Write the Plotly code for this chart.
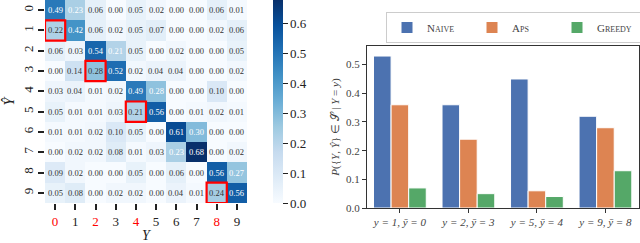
import plotly.graph_objects as go
import plotly.express as px

# ---- data ----
labels = list(range(10))
conf = [
    [0.49, 0.23, 0.06, 0.00, 0.05, 0.02, 0.00, 0.00, 0.06, 0.01],
    [0.22, 0.42, 0.06, 0.02, 0.05, 0.07, 0.00, 0.00, 0.02, 0.06],
    [0.06, 0.03, 0.54, 0.21, 0.05, 0.00, 0.02, 0.00, 0.00, 0.05],
    [0.00, 0.14, 0.28, 0.52, 0.02, 0.04, 0.04, 0.00, 0.00, 0.02],
    [0.03, 0.04, 0.01, 0.02, 0.49, 0.28, 0.00, 0.00, 0.10, 0.00],
    [0.05, 0.01, 0.01, 0.03, 0.21, 0.56, 0.00, 0.01, 0.02, 0.01],
    [0.01, 0.01, 0.02, 0.10, 0.05, 0.00, 0.61, 0.30, 0.00, 0.00],
    [0.00, 0.02, 0.02, 0.08, 0.01, 0.03, 0.23, 0.68, 0.00, 0.02],
    [0.09, 0.02, 0.00, 0.00, 0.05, 0.00, 0.06, 0.00, 0.56, 0.27],
    [0.05, 0.08, 0.00, 0.02, 0.02, 0.00, 0.04, 0.01, 0.24, 0.56],
]
highlight = [(1, 0), (3, 2), (5, 4), (9, 8)]  # (row Ŷ, col Y)
red_cols = [0, 2, 4, 8]

groups = ["y = 1, ȳ = 0", "y = 2, ȳ = 3", "y = 5, ȳ = 4", "y = 9, ȳ = 8"]
naive = [0.53, 0.36, 0.45, 0.32]
aps = [0.36, 0.24, 0.06, 0.28]
greedy = [0.07, 0.05, 0.04, 0.13]

SERIF = "Liberation Serif"
W, H = 640, 243

fig = go.Figure()
fig.add_trace(go.Heatmap(
    z=conf, x=labels, y=labels, zmin=0, zmax=0.68,
    colorscale=px.colors.sequential.Blues,
    xaxis="x", yaxis="y",
    colorbar=dict(x=273 / W, xanchor="left", y=1, yanchor="top", len=203 / H,
                  lenmode="fraction", thickness=10, outlinewidth=0, xpad=0, ypad=0,
                  ticks="outside", ticklen=5, tickwidth=1, tickcolor="#222",
                  tickvals=[0, 0.1, 0.2, 0.3, 0.4, 0.5, 0.6],
                  ticktext=["0.0", "0.1", "0.2", "0.3", "0.4", "0.5", "0.6"],
                  tickfont=dict(family=SERIF, size=13, color="#222")),
    hoverinfo="skip",
))

hl = set(highlight)
for r, row in enumerate(conf):
    for c, v in enumerate(row):
        col = "white" if (v > 0.2 and (r, c) not in hl) else "#333"
        fig.add_annotation(x=labels[c], y=labels[r], xref="x", yref="y", text=f"{v:.2f}",
                           showarrow=False, font=dict(family=SERIF, size=8.5, color=col))
for r, c in highlight:
    fig.add_shape(type="rect", xref="x", yref="y", x0=labels[c] - 0.5, x1=labels[c] + 0.5,
                  y0=labels[r] - 0.5, y1=labels[r] + 0.5, line=dict(color="red", width=2.2))

fig.add_trace(go.Bar(x=groups, y=naive, name="N<span style='font-size:8px'>AIVE</span>",
                     marker=dict(color="#4c72b0", line=dict(color="white", width=1)),
                     xaxis="x2", yaxis="y2"))
fig.add_trace(go.Bar(x=groups, y=aps, name="A<span style='font-size:8px'>PS</span>",
                     marker=dict(color="#dd8452", line=dict(color="white", width=1)),
                     xaxis="x2", yaxis="y2"))
fig.add_trace(go.Bar(x=groups, y=greedy, name="G<span style='font-size:8px'>REEDY</span>",
                     marker=dict(color="#55a868", line=dict(color="white", width=1)),
                     xaxis="x2", yaxis="y2"))

tickfont = dict(family=SERIF, size=13, color="#222")
fig.update_layout(
    width=W, height=H, margin=dict(l=0, r=0, t=0, b=0, autoexpand=False),
    paper_bgcolor="white", plot_bgcolor="white",
    barmode="group", bargap=0.23, bargroupgap=0,
    font=dict(family=SERIF, color="#222"),
    xaxis=dict(domain=[45 / W, 247 / W], anchor="y", tickvals=labels, automargin=False,
               ticktext=[f"<span style='color:red'>{l}</span>" if l in red_cols else str(l) for l in labels],
               ticks="outside", ticklen=6, tickwidth=1.5, tickcolor="#222", tickfont=tickfont,
               showgrid=False, zeroline=False, range=[-0.5, 9.5], tickangle=0,
               title=dict(text="<i>Y</i>", font=dict(family=SERIF, size=14), standoff=4)),
    yaxis=dict(domain=[1 - 203 / H, 1], anchor="x", tickvals=labels, ticktext=[str(l) for l in labels],
               ticks="outside", ticklen=6, tickwidth=1.5, tickcolor="#222", tickfont=tickfont,
               automargin=False,
               tickangle=-90, showgrid=False, zeroline=False, range=[9.5, -0.5],
               title=dict(text="<i>Ŷ</i>", font=dict(family=SERIF, size=14), standoff=2)),
    xaxis2=dict(domain=[367 / W, 639 / W], anchor="y2", range=[-0.48, 3.49], automargin=False,
                showline=True, mirror=True, linecolor="#333", linewidth=1.2, tickangle=0,
                ticks="outside", ticklen=4, tickcolor="#333",
                tickfont=dict(family=SERIF, size=11, color="#444", style="italic"), showgrid=False),
    yaxis2=dict(domain=[1 - 208 / H, 1 - 46 / H], anchor="x2", range=[0, 0.565], automargin=False,
                tickvals=[0, 0.1, 0.2, 0.3, 0.4, 0.5], ticktext=["0.0", "0.1", "0.2", "0.3", "0.4", "0.5"],
                showline=True, mirror=True, linecolor="#333", linewidth=1.2,
                ticks="outside", ticklen=4, tickcolor="#333",
                tickfont=dict(family=SERIF, size=11, color="#444"), showgrid=False, zeroline=False,
                title=dict(text="<i>P</i>({<i>Y</i>, <i>Ŷ</i>} ∈ 𝒮 | <i>Y</i> = <i>y</i>)",
                           font=dict(family=SERIF, size=11, color="#444"), standoff=4)),
    legend=dict(orientation="h", x=386 / W, xanchor="left", y=1 - 12 / H, yanchor="top",
                bordercolor="#ccc", borderwidth=1, bgcolor="white",
                font=dict(family=SERIF, size=11, color="#444"), entrywidth=40, itemwidth=30,
                tracegroupgap=0),
)

fig.write_html("out.html", config={"displayModeBar": False},
               post_script="document.body.style.margin='0';document.body.style.overflow='hidden';")
